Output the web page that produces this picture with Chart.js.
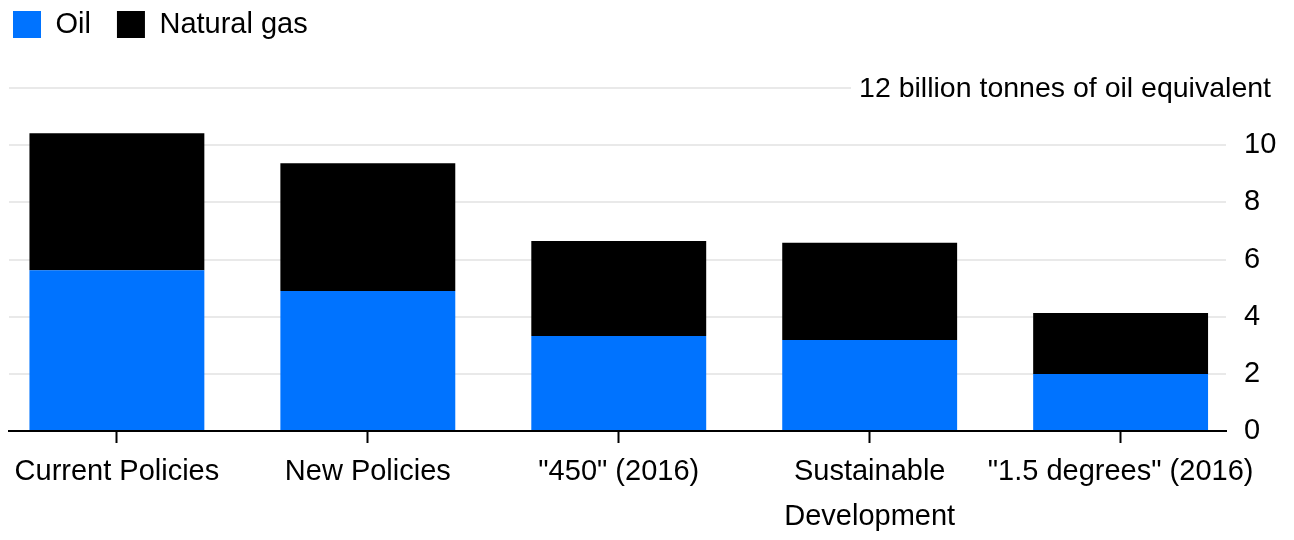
<!DOCTYPE html>
<html><head><meta charset="utf-8">
<script src="https://cdn.jsdelivr.net/npm/chart.js@4.4.0/dist/chart.umd.min.js"></script>
<style>html,body{margin:0;padding:0;background:#fff}#wrap{width:1294px;height:540px}</style>
</head><body><div id="wrap"><canvas id="c" width="1294" height="540"></canvas></div>
<script>
const categories = ['Current Policies', 'New Policies', '"450" (2016)', ['Sustainable', 'Development'], '"1.5 degrees" (2016)'];
const oil = [5.62, 4.90, 3.32, 3.18, 1.99];
const gas = [4.80, 4.47, 3.33, 3.41, 2.14];
const yTicks = [0, 2, 4, 6, 8, 10, 12];
const unitLabel = '12 billion tonnes of oil equivalent';
const seriesNames = ['Oil', 'Natural gas'];
const FONT = "'Liberation Sans', Arial, Helvetica, sans-serif";

const legendPlace = {
  id: 'legendPlace',
  beforeDraw(chart) {
    const lg = chart.legend;
    const pad = lg.options.labels.padding;
    lg.left = 13 - pad;
    lg.top = 10 - pad;
  }
};
const unitText = {
  id: 'unitText',
  afterDraw(chart) {
    const ctx = chart.ctx;
    const y = chart.scales.y.getPixelForValue(12);
    ctx.save();
    ctx.font = '28.5px ' + FONT;
    const w = ctx.measureText(unitLabel).width;
    const right = chart.width - 23;
    ctx.fillStyle = '#fff';
    ctx.fillRect(right - w - 8, y - 5, w + 30, 10);
    ctx.fillStyle = '#000';
    ctx.textAlign = 'right';
    ctx.textBaseline = 'middle';
    ctx.fillText(unitLabel, right, y + 1);
    ctx.restore();
  }
};

new Chart(document.getElementById('c'), {
  type: 'bar',
  data: {
    datasets: [
      { label: seriesNames[0], data: oil.map((v, i) => ({x: i, y: v})), backgroundColor: '#0073ff' },
      { label: seriesNames[1], data: gas.map((v, i) => ({x: i, y: v})), backgroundColor: '#000000' }
    ]
  },
  options: {
    responsive: false,
    animation: false,
    barPercentage: 0.697,
    categoryPercentage: 1,
    layout: { padding: { left: 9, right: 0, top: 23, bottom: 0 } },
    plugins: {
      tooltip: { enabled: false },
      legend: {
        position: 'top', align: 'start',
        labels: { boxWidth: 28, boxHeight: 27, padding: 26, color: '#000', font: { family: FONT, size: 29 } }
      }
    },
    scales: {
      x: {
        type: 'linear', min: -0.43, max: 4.42, offset: false, stacked: true,
        border: { display: true, color: '#000', width: 2 },
        grid: { offset: false, drawOnChartArea: false, drawTicks: true, tickLength: 12, tickColor: '#000', tickWidth: 2 },
        ticks: { color: '#000', font: { family: FONT, size: 29, lineHeight: 1.55 }, padding: 7, maxRotation: 0, autoSkip: false,
          callback: (v, i) => categories[i] },
        afterBuildTicks: s => { s.ticks = categories.map((c, i) => ({ value: i })); },
        afterFit: s => { s.paddingLeft = 0; s.paddingRight = 0; s.height = 109; }
      },
      y: {
        position: 'right', stacked: true, min: 0, max: 12,
        border: { display: false },
        grid: { color: c => (c.tick && c.tick.value === 0) ? 'rgba(0,0,0,0)' : '#e9e9e9', lineWidth: 2, drawTicks: false },
        ticks: { padding: 18, crossAlign: 'near', color: '#000', font: { family: FONT, size: 29 },
          callback: v => v === 12 ? '' : String(v) },
        afterBuildTicks: s => { s.ticks = yTicks.map(v => ({ value: v })); },
        afterFit: s => { s.width = 68; s.paddingTop = 0; s.paddingBottom = 0; }
      }
    }
  },
  plugins: [legendPlace, unitText]
});
</script></body></html>
